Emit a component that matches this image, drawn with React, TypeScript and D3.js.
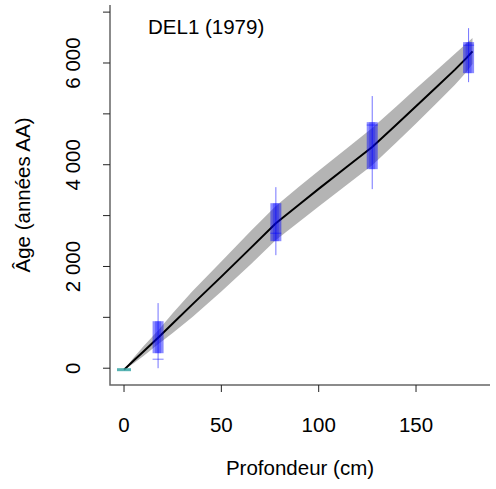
import React from "react";
import * as d3 from "d3";

// Age-depth model (depth in cm, ages in years AA)
const modelDepth = [0, 5, 10, 17.5, 25, 35, 50, 65, 78, 90, 100, 115, 127.5, 140, 150, 160, 170, 176, 179];
const modelMedian = [-29, 150, 330, 600, 880, 1250, 1800, 2360, 2850, 3220, 3525, 3975, 4350, 4790, 5150, 5510, 5870, 6100, 6230];
const modelLower = [-29, 100, 240, 470, 690, 1000, 1510, 2040, 2520, 2880, 3180, 3620, 3990, 4440, 4810, 5190, 5570, 5830, 5980];
const modelUpper = [-29, 210, 430, 740, 1080, 1510, 2100, 2690, 3190, 3570, 3880, 4340, 4720, 5150, 5500, 5840, 6180, 6390, 6490];

// Dated levels
const dateDepth = [17.5, 78, 127.5, 177];
const dateMin = [0, 2222, 3520, 5623];
const dateMax = [1280, 3559, 5350, 6685];
const dateBoxLo = [295, 2497, 3913, 5800];
const dateBoxHi = [924, 3244, 4837, 6410];
const dateMark = [177, 2654, 4780, 6350];

// Surface (core top) age
const surfaceDepth = 0;
const surfaceAge = -29;

const xTicks = [0, 50, 100, 150];
const yTicks = [0, 1000, 2000, 3000, 4000, 5000, 6000, 7000];
const yLabelTicks = [0, 2000, 4000, 6000];

const title = "DEL1 (1979)";
const xTitle = "Profondeur (cm)";
const yTitle = "Âge (années AA)";

const W = 496;
const H = 489;
const left = 110;
const right = 490;
const top = 5;
const bottom = 385;

export default function App() {
  const x = d3.scaleLinear().domain([-7.2, 188]).range([left, right]);
  const y = d3.scaleLinear().domain([-330, 7140]).range([bottom, top]);
  const fmt = (v: number) => (v >= 1000 ? d3.format(",")(v).replace(",", " ") : String(v));

  const band = d3
    .area<number>()
    .x((_, i) => x(modelDepth[i]))
    .y0((_, i) => y(modelLower[i]))
    .y1((_, i) => y(modelUpper[i]))
    .curve(d3.curveLinear);
  const line = d3
    .line<number>()
    .x((_, i) => x(modelDepth[i]))
    .y((_, i) => y(modelMedian[i]));

  const font = "Liberation Sans, Arial, sans-serif";
  const fs = 20.5;

  return (
    <svg width={W} height={H} style={{ position: "absolute", left: 0, top: 0, background: "#fff" }} fontFamily={font}>
      {/* model envelope */}
      <path d={band(modelDepth) || ""} fill="#b4b4b4" stroke="none" />
      <path d={line(modelDepth) || ""} fill="none" stroke="#000" strokeWidth={2} />

      {/* surface age */}
      <line x1={x(surfaceDepth) - 7} x2={x(surfaceDepth) + 7} y1={y(surfaceAge)} y2={y(surfaceAge)} stroke="#3aa6a6" strokeWidth={3} opacity={0.85} />

      {/* dates */}
      {dateDepth.map((d, i) => {
        const cx = x(d);
        return (
          <g key={i}>
            <line x1={cx} x2={cx} y1={y(dateMin[i])} y2={y(dateMax[i])} stroke="#0000ff" strokeOpacity={0.55} strokeWidth={1} />
            <rect x={cx - 5.5} width={11} y={y(dateBoxHi[i])} height={y(dateBoxLo[i]) - y(dateBoxHi[i])} fill="#0000ff" fillOpacity={0.45} />
            <rect x={cx - 3} width={6} y={y(dateBoxHi[i])} height={y(dateBoxLo[i]) - y(dateBoxHi[i])} fill="#0000ff" fillOpacity={0.3} />
            <line x1={cx - 5.5} x2={cx + 5.5} y1={y(dateMark[i])} y2={y(dateMark[i])} stroke="#0000ff" strokeOpacity={0.5} strokeWidth={1} />
          </g>
        );
      })}

      {/* L box */}
      <path d={`M${left},${top}V${bottom}H${right}`} fill="none" stroke="#666" strokeWidth={1.5} />

      {/* x ticks */}
      {xTicks.map((t) => (
        <g key={t}>
          <line x1={x(t)} x2={x(t)} y1={bottom} y2={bottom + 7} stroke="#222" strokeWidth={1} />
          <text x={x(t)} y={432} textAnchor="middle" fontSize={fs}>
            {t}
          </text>
        </g>
      ))}
      {/* y ticks */}
      {yTicks.map((t) => (
        <line key={t} x1={left - 7} x2={left} y1={y(t)} y2={y(t)} stroke="#222" strokeWidth={1} />
      ))}
      {yLabelTicks.map((t) => (
        <text key={t} transform={`translate(80,${y(t)}) rotate(-90)`} textAnchor="middle" fontSize={fs}>
          {fmt(t)}
        </text>
      ))}

      <text x={(left + right) / 2} y={475} textAnchor="middle" fontSize={fs}>
        {xTitle}
      </text>
      <text transform={`translate(30,${(top + bottom) / 2}) rotate(-90)`} textAnchor="middle" fontSize={fs}>
        {yTitle}
      </text>
      <text x={148} y={34} fontSize={fs}>
        {title}
      </text>
    </svg>
  );
}
